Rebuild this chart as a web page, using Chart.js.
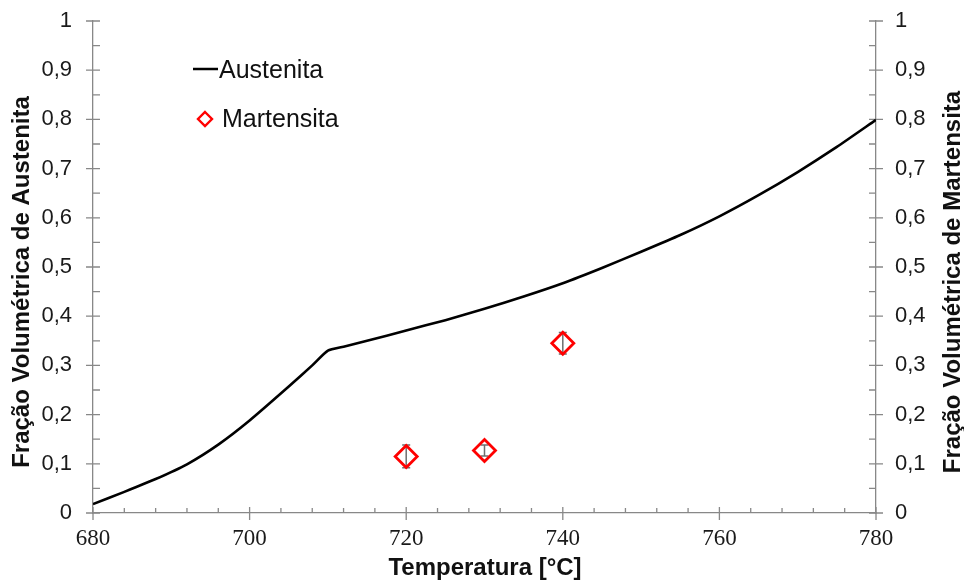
<!DOCTYPE html>
<html>
<head>
<meta charset="utf-8">
<script src="https://cdn.jsdelivr.net/npm/chart.js@4"></script>
<style>
	body { margin: 0; background: #fff; }
</style>
</head>
<body>
<canvas id="chart" width="964" height="584"></canvas>
<script>
// Austenita curve (temperature, volume fraction)
const austTemp = [680, 684, 688, 692, 696, 700, 705, 708, 710, 712, 715, 720, 725, 730, 735, 740, 745, 750, 755, 760, 765, 770, 775, 780];
const austFrac = [0.018, 0.043, 0.069, 0.099, 0.139, 0.188, 0.257, 0.300, 0.330, 0.338, 0.350, 0.371, 0.392, 0.415, 0.440, 0.467, 0.498, 0.531, 0.565, 0.603, 0.646, 0.693, 0.744, 0.799];

// Martensita measurements with error bars
const martTemp = [720, 730, 740];
const martFrac = [0.115, 0.127, 0.345];
const martErr = [0.023, 0.011, 0.022];

const xTickLabels = ['680', '700', '720', '740', '760', '780'];
const yTickLabels = ['0', '0,1', '0,2', '0,3', '0,4', '0,5', '0,6', '0,7', '0,8', '0,9', '1'];

const axisColor = '#888';
const sans = "'Liberation Sans', Arial, sans-serif";
const serif = "'Liberation Serif', 'Times New Roman', serif";

// major ticks cross the axis, minor ticks point inside
const axisTicks = {
	id: 'axisTicks',
	beforeDatasetsDraw(chart) {
		const ctx = chart.ctx;
		const x = chart.scales.x, yl = chart.scales.y, yr = chart.scales.y2;
		ctx.save();
		ctx.strokeStyle = axisColor;
		ctx.lineWidth = 1.3;
		ctx.beginPath();
		for (let t = 680; t <= 780; t += 4) {
			const px = x.getPixelForValue(t);
			const major = (t - 680) % 20 === 0;
			ctx.moveTo(px, x.top + (major ? 7 : 0));
			ctx.lineTo(px, x.top - (major ? 6 : 5));
		}
		for (let i = 0; i <= 20; i++) {
			const v = i * 0.05;
			const major = i % 2 === 0;
			const py = yl.getPixelForValue(v);
			ctx.moveTo(yl.right - (major ? 7 : 0), py);
			ctx.lineTo(yl.right + 7, py);
			ctx.moveTo(yr.left + (major ? 7 : 0), py);
			ctx.lineTo(yr.left - 7, py);
		}
		ctx.stroke();

		// error bars of the martensite points
		ctx.strokeStyle = '#6e6e6e';
		ctx.lineWidth = 1.5;
		ctx.beginPath();
		martTemp.forEach((t, i) => {
			const px = x.getPixelForValue(t);
			const top = yr.getPixelForValue(martFrac[i] + martErr[i]);
			const bot = yr.getPixelForValue(martFrac[i] - martErr[i]);
			ctx.moveTo(px, top); ctx.lineTo(px, bot);
			ctx.moveTo(px - 4, top); ctx.lineTo(px + 4, top);
			ctx.moveTo(px - 4, bot); ctx.lineTo(px + 4, bot);
		});
		ctx.stroke();
		ctx.restore();
	},
	afterDraw(chart) {
		const ctx = chart.ctx;
		const ds = chart.data.datasets;
		ctx.save();
		// legend inside the plot
		ctx.strokeStyle = '#000';
		ctx.lineWidth = 2.5;
		ctx.beginPath();
		ctx.moveTo(193, 69); ctx.lineTo(218, 69);
		ctx.stroke();
		ctx.strokeStyle = '#ff0000';
		ctx.lineWidth = 2.4;
		ctx.beginPath();
		ctx.moveTo(205, 112); ctx.lineTo(212, 119); ctx.lineTo(205, 126); ctx.lineTo(198, 119); ctx.closePath();
		ctx.stroke();
		ctx.fillStyle = '#111';
		ctx.font = '25px ' + sans;
		ctx.textBaseline = 'alphabetic';
		ctx.fillText(ds[0].label, 219, 78);
		ctx.fillText(ds[1].label, 222, 127);

		// axis titles
		ctx.font = 'bold 24px ' + sans;
		ctx.textAlign = 'center';
		ctx.textBaseline = 'middle';
		ctx.fillText('Temperatura [°C]', 485, 568);
		ctx.translate(22, 282);
		ctx.rotate(-Math.PI / 2);
		ctx.fillText('Fração Volumétrica de Austenita', 0, 0);
		ctx.rotate(Math.PI / 2);
		ctx.translate(953 - 22, 0);
		ctx.rotate(-Math.PI / 2);
		ctx.fillText('Fração Volumétrica de Martensita', 0, 0);
		ctx.restore();
	}
};

const yScale = (pos, width, pad) => ({
	type: 'linear',
	position: pos,
	min: 0,
	max: 1,
	grid: { display: true, drawOnChartArea: false, drawTicks: false },
	border: { color: axisColor, width: 1.3 },
	ticks: {
		stepSize: 0.1,
		padding: pad,
		color: '#1a1a1a',
		font: { family: sans, size: 22 },
		callback: (v, i) => yTickLabels[i]
	},
	afterFit: s => {
		s.width = width;
		s.paddingTop = 0;
		s.paddingBottom = 0;
	}
});

new Chart(document.getElementById('chart'), {
	type: 'scatter',
	data: {
		datasets: [
			{
				label: 'Austenita',
				data: austTemp.map((t, i) => ({ x: t, y: austFrac[i] })),
				showLine: true,
				borderColor: '#000',
				borderWidth: 2.6,
				pointRadius: 0,
				tension: 0.2,
				yAxisID: 'y'
			},
			{
				label: 'Martensita',
				data: martTemp.map((t, i) => ({ x: t, y: martFrac[i] })),
				showLine: false,
				pointStyle: 'rectRot',
				pointRadius: 11,
				pointBorderWidth: 2.8,
				borderColor: '#ff0000',
				backgroundColor: 'rgba(0,0,0,0)',
				yAxisID: 'y2'
			}
		]
	},
	options: {
		responsive: false,
		animation: false,
		layout: { padding: { top: 21, left: 0, right: 0, bottom: 0 } },
		plugins: {
			legend: { display: false },
			tooltip: { enabled: false }
		},
		scales: {
			x: {
				type: 'linear',
				min: 680,
				max: 780,
				grid: { display: true, drawOnChartArea: false, drawTicks: false },
				border: { color: axisColor, width: 1.3 },
				ticks: {
					stepSize: 20,
					padding: 12,
					color: '#1a1a1a',
					font: { family: serif, size: 23 },
					callback: (v, i) => xTickLabels[i]
				},
				afterFit: s => {
					s.height = 71;
					s.paddingLeft = 0;
					s.paddingRight = 0;
				}
			},
			y: yScale('left', 93, 21),
			y2: yScale('right', 88, 19)
		}
	},
	plugins: [axisTicks]
});
</script>
</body>
</html>
